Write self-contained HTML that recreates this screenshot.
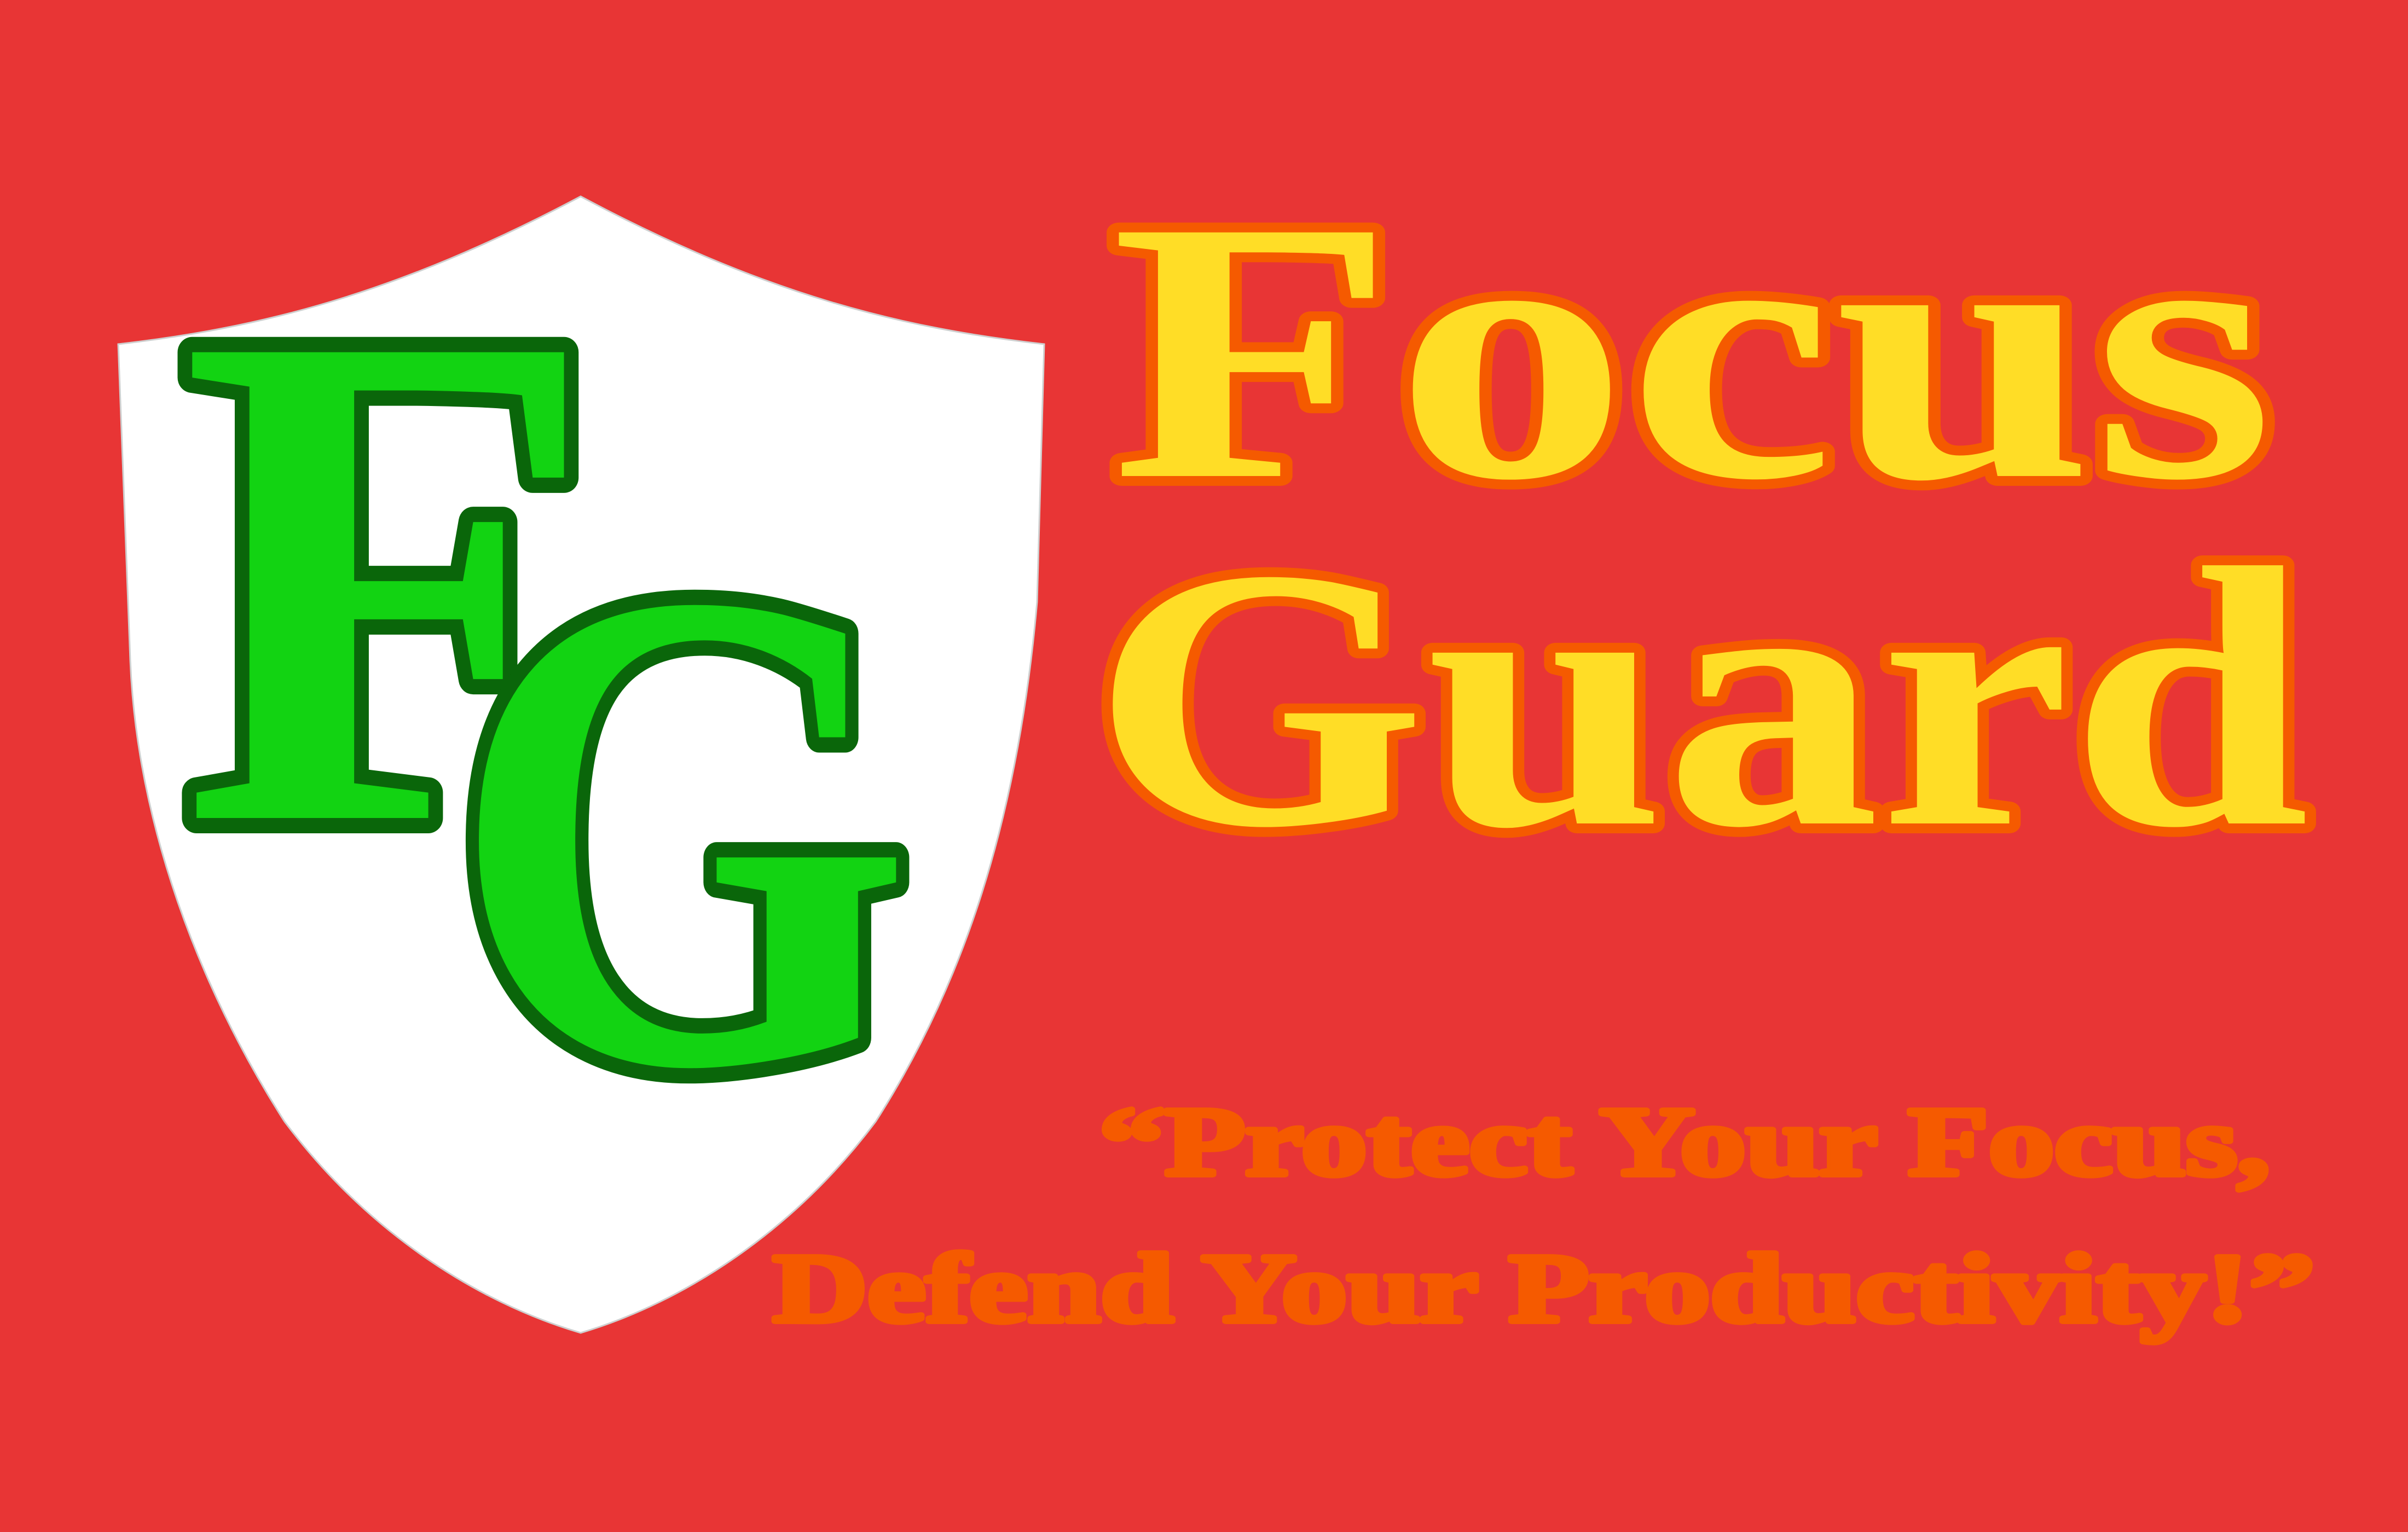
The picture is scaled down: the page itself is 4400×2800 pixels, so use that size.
<!DOCTYPE html>
<html><head><meta charset="utf-8"><style>
html,body{margin:0;padding:0;background:#E83535;}
svg{display:block;}
text{font-family:"Liberation Serif",serif;font-weight:bold;paint-order:stroke;stroke-linejoin:round;}
</style></head><body>
<svg width="4400" height="2800" viewBox="0 0 4400 2800">
<rect x="0" y="0" width="4400" height="2800" fill="#E83535"/>
<path fill="#FFFFFF" stroke="#CFCFCF" stroke-width="3"
 d="M1061,359 C1400,540 1650,600 1908,629 L1895,1100 C1860,1500 1760,1800 1600,2050 C1450,2250 1250,2380 1061,2436 C870,2380 670,2250 520,2050 C360,1800 250,1500 238,1207 L216,629 C470,600 720,540 1061,359 Z"/>
<text x="330" y="1495" font-size="1300" textLength="760" lengthAdjust="spacingAndGlyphs" fill="#12D312" stroke="#0A660A" stroke-width="56">F</text>
<text x="822" y="1940" font-size="1260" textLength="845" lengthAdjust="spacingAndGlyphs" fill="#12D312" stroke="#0A660A" stroke-width="56">G</text>
<text x="2030" y="870" font-size="680" textLength="2125" lengthAdjust="spacingAndGlyphs" fill="#FFDD26" stroke="#F55A00" stroke-width="36">Focus</text>
<text x="1995" y="1505" font-size="680" textLength="2225" lengthAdjust="spacingAndGlyphs" fill="#FFDD26" stroke="#F55A00" stroke-width="36">Guard</text>
<text x="2008" y="2147" font-size="180" textLength="2140" lengthAdjust="spacingAndGlyphs" fill="#F55A00" stroke="#F55A00" stroke-width="10">“Protect Your Focus,</text>
<text x="1412" y="2415" font-size="180" textLength="2818" lengthAdjust="spacingAndGlyphs" fill="#F55A00" stroke="#F55A00" stroke-width="10">Defend Your Productivity!”</text>
</svg>
</body></html>
